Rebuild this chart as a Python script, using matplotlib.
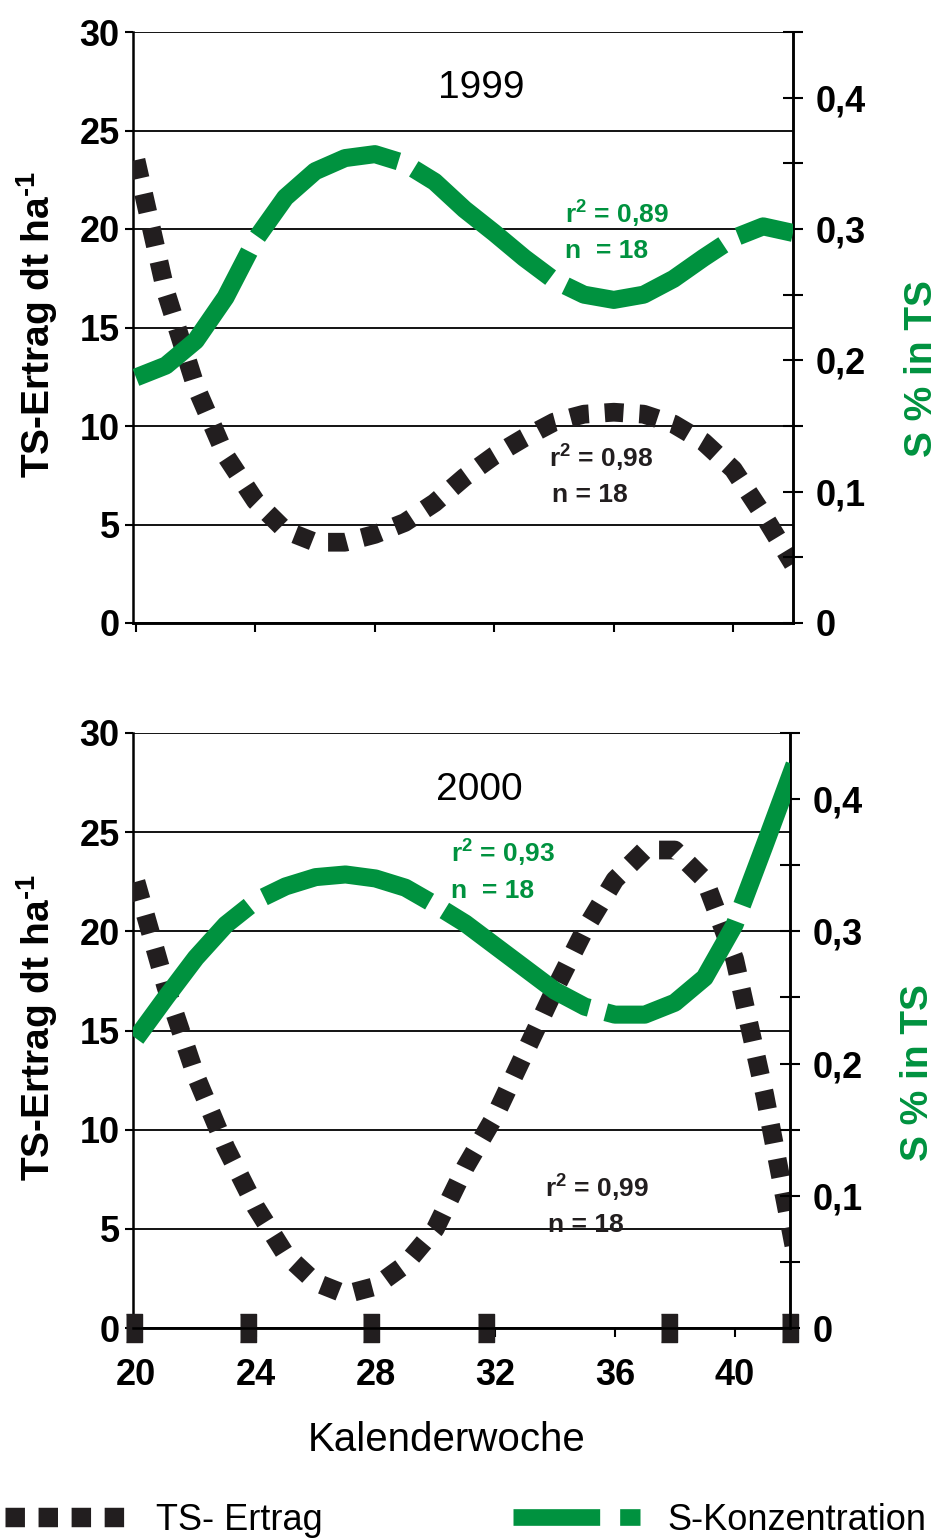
import matplotlib
matplotlib.use('Agg')
import matplotlib.pyplot as plt
from matplotlib.lines import Line2D
from matplotlib.ticker import MultipleLocator

plt.rcParams['font.family'] = ['Liberation Sans', 'DejaVu Sans']
plt.rcParams['mathtext.fontset'] = 'custom'
plt.rcParams['mathtext.rm'] = 'Liberation Sans:bold'
plt.rcParams['mathtext.bf'] = 'Liberation Sans:bold'

# Kalenderwochen
weeks = [20, 21, 22, 23, 24, 25, 26, 27, 28, 29, 30, 31,
         32, 33, 34, 35, 36, 37, 38, 39, 40, 41, 42]

# 1999: TS-Ertrag (dt/ha) und S-Konzentration (% in TS), Ausgleichskurven
ts_1999 = [23.5, 16.8, 12.0, 8.5, 6.2, 4.7, 4.1, 4.1, 4.5, 5.1, 6.1, 7.4,
           8.5, 9.4, 10.2, 10.6, 10.7, 10.6, 10.1, 9.2, 7.8, 5.5, 3.0]
s_1999 = [0.187, 0.196, 0.215, 0.248, 0.292, 0.324, 0.344, 0.354, 0.357, 0.350, 0.336, 0.315,
          0.297, 0.278, 0.261, 0.250, 0.246, 0.250, 0.262, 0.278, 0.293, 0.302, 0.297]

# 2000
ts_2000 = [22.5, 17.2, 12.7, 9.1, 6.1, 3.7, 2.3, 1.7, 2.1, 3.2, 5.0, 8.1,
           10.7, 13.9, 17.1, 20.1, 22.6, 24.1, 24.1, 22.6, 18.6, 11.8, 4.0]
s_2000 = [0.219, 0.250, 0.280, 0.305, 0.323, 0.334, 0.341, 0.343, 0.340, 0.333, 0.320, 0.306,
          0.289, 0.272, 0.255, 0.243, 0.237, 0.237, 0.246, 0.265, 0.305, 0.365, 0.426]

# Marken auf der Nulllinie (2000)
zero_marks = [19.95, 23.75, 27.85, 31.7, 37.8, 41.85]

stats = {
    '1999': {'s': ('0,89', '18'), 'ts': ('0,98', '18')},
    '2000': {'s': ('0,93', '18'), 'ts': ('0,99', '18')},
}

black = '#221e1f'
green = '#00923f'

fig = plt.figure(figsize=(9.42, 15.4), dpi=100)
W, H = 942, 1540


def panel(box, xmax, ts, s, year, st, text_pos, bottom=False):
    x0, y0, x1, y1 = box
    ax = fig.add_axes([x0 / W, 1 - y1 / H, (x1 - x0) / W, (y1 - y0) / H])
    ax2 = ax.twinx()

    ax.plot(weeks, ts, color=black, lw=13.5, linestyle=(0, (1.0, 0.85)),
            dash_capstyle='butt', zorder=3)
    ax2.plot(weeks, s, color=green, lw=13, linestyle=(0, (9.7, 0.95)),
             dash_capstyle='butt', zorder=3)

    ax.set_xlim(19.9, xmax)
    ax.set_ylim(0, 30)
    ax2.set_ylim(0, 0.45)

    ax.yaxis.set_major_locator(MultipleLocator(5))
    ax.grid(axis='y', color='black', lw=1.3)
    ax.set_axisbelow(True)
    ax.xaxis.set_major_locator(MultipleLocator(4))

    for a in (ax, ax2):
        a.spines['top'].set_visible(False)
        for sp in a.spines.values():
            sp.set_linewidth(1.8)
    ax2.spines['left'].set_visible(False)

    ax.tick_params(axis='y', direction='out', length=6, width=1.5, pad=3.5,
                   labelsize=26)
    ax.tick_params(axis='x', direction='out', length=6.5, width=1.5, pad=15,
                   labelsize=26, labelbottom=bottom)
    for lab in ax.get_xticklabels() + ax.get_yticklabels():
        lab.set_fontweight('bold')

    ax2.yaxis.set_major_locator(MultipleLocator(0.1))
    ax2.yaxis.set_minor_locator(MultipleLocator(0.05))
    ax2.yaxis.set_major_formatter(
        plt.FuncFormatter(lambda v, p: ('%g' % round(v, 2)).replace('.', ',')))
    ax2.tick_params(axis='y', which='both', direction='inout', length=14,
                    width=1.5, pad=9, labelsize=26)
    for lab in ax2.get_yticklabels():
        lab.set_fontweight('bold')

    ax.set_ylabel('TS-Ertrag dt ha$^{\\text{-1}}$', fontsize=28,
                  fontweight='bold')
    ax.yaxis.set_label_coords(-0.111, 0.505)
    ax2.set_ylabel('S % in TS', fontsize=28, fontweight='bold', color=green,
                   rotation=90)
    ax2.yaxis.set_label_coords(1.168, 0.43)

    ax.text(0.527, 0.905, year, transform=ax.transAxes, ha='center',
            va='center', fontsize=28)

    (gx, gy), (bx, by) = text_pos
    ax.text(gx, gy, 'r$^{\\text{2}}$ = ' + st['s'][0], transform=ax.transAxes,
            color=green, fontsize=19, fontweight='bold', va='center')
    ax.text(gx + 0.0, gy - 0.065, 'n  = ' + st['s'][1], transform=ax.transAxes,
            color=green, fontsize=19, fontweight='bold', va='center')
    ax.text(bx, by, 'r$^{\\text{2}}$ = ' + st['ts'][0], transform=ax.transAxes,
            color=black, fontsize=19, fontweight='bold', va='center')
    ax.text(bx + 0.005, by - 0.064, 'n = ' + st['ts'][1], transform=ax.transAxes,
            color=black, fontsize=19, fontweight='bold', va='center')
    return ax, ax2


panel((133, 32, 793, 623), 42.0, ts_1999, s_1999, '1999', stats['1999'],
      ((0.655, 0.694), (0.63, 0.281)))
axb, axb2 = panel((133, 733, 790, 1328), 41.85, ts_2000, s_2000, '2000',
                  stats['2000'], ((0.484, 0.80), (0.627, 0.237)), bottom=True)

# dunkle Marken auf der x-Achse
bar = [(-0.3, -0.5), (0.3, -0.5), (0.3, 0.5), (-0.3, 0.5)]
axb.plot(zero_marks, [0] * len(zero_marks), linestyle='none', marker=bar,
         markersize=20, color=black, clip_on=False, zorder=4)

fig.text(447 / W, 1 - 1440 / H, 'Kalenderwoche', ha='center', va='center',
         fontsize=29)

h1 = Line2D([], [], color=black, lw=14, linestyle=(0, (1.0, 0.7)),
            dash_capstyle='butt')
h2 = Line2D([], [], color=green, lw=12, linestyle=(0, (5.2, 1.2)),
            dash_capstyle='butt')
fig.legend(handles=[h1], labels=['TS- Ertrag'], loc='center left',
           bbox_to_anchor=(5 / W, 1 - 1520 / H), frameon=False, fontsize=26,
           handlelength=3.46, handletextpad=0.72, borderpad=0, borderaxespad=0)
fig.legend(handles=[h2], labels=['S-Konzentration'], loc='center left',
           bbox_to_anchor=(513 / W, 1 - 1520 / H), frameon=False, fontsize=26,
           handlelength=3.52, handletextpad=0.75, borderpad=0, borderaxespad=0)

fig.savefig('out.png', dpi=100)
